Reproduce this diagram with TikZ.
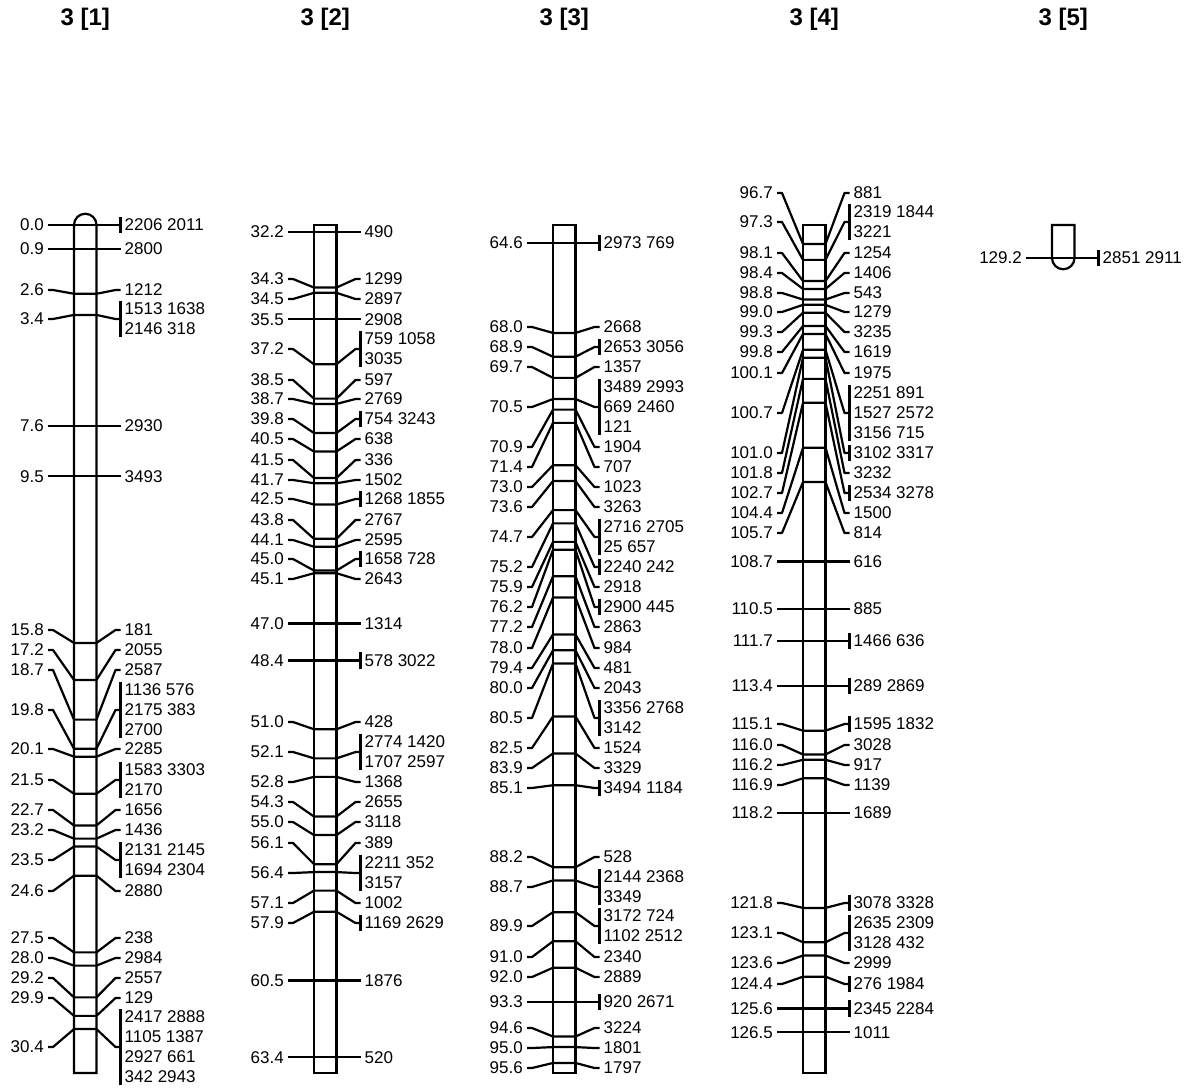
\documentclass[tikz,border=0pt]{standalone}
\usepackage{fontspec}
\setmainfont{Liberation Sans}
\newcount\mkcnt
\def\SC{26.45}
\tikzset{
  ln/.style={line width=2.2pt, line join=round},
  lft/.style={anchor=east, inner sep=0pt, font=\fontsize{17}{20}\selectfont},
  rgt/.style={anchor=west, inner sep=0pt, align=left, font=\fontsize{17}{20}\selectfont},
  ttl/.style={anchor=base, inner sep=0pt, font=\fontsize{24}{28}\selectfont\bfseries},
  chrbar/.style={line width=2.2pt, line join=miter},
}
\newcommand\mrkcore[3]{%
  \global\advance\mkcnt by 1
  \edef\nm{m\the\mkcnt}%
  \pgfmathsetmacro\my{\Yo+\SC*(#1-\Co)}%
  \pgfmathsetmacro\ly{#2}%
  \coordinate (\nm A) at (\Xb,\my);
  \coordinate (\nm B) at (\Xb+22.5,\my);
  \node[lft] (\nm L) at (\Xb-30,\ly) {#1};
  \node[rgt] (\nm R) at (\Xb+50.5,\ly) {#3};
  \draw[ln] ([xshift=4pt]\nm L.east) -- ([xshift=9pt]\nm L.east) -- (\nm A) -- (\nm B)
     -- ([xshift=-9pt]\nm R.west) -- ([xshift=-4pt]\nm R.west);
}
\newcommand\mrk[3]{\mrkcore{#1}{#2}{#3}}
\newcommand\mrkB[3]{\mrkcore{#1}{#2}{#3}%
  \draw[ln] ([xshift=-4pt,yshift=2pt]\nm R.north west) -- ([xshift=-4pt,yshift=-2pt]\nm R.south west);}
\begin{document}
\begin{tikzpicture}[x=1pt,y=-1pt]
\useasboundingbox (0,0) rectangle (1194,1089);
\fill[white] (0,0) rectangle (1194,1089);
% titles
\node[ttl] (t1) at (85.25,26) {3 [1]};
\node[ttl] (t2) at (325.25,26) {3 [2]};
\node[ttl] (t3) at (564.25,26) {3 [3]};
\node[ttl] (t4) at (814.25,26) {3 [4]};
\node[ttl] (t5) at (1063.25,26) {3 [5]};
% chromosome bars
\draw[chrbar] (74,1073) -- (74,225) arc[start angle=180, end angle=360, radius=11.25] -- (96.5,1073) -- cycle;
\draw[chrbar] (314,225) rectangle (336.5,1073);
\draw[chrbar] (553,225) rectangle (575.5,1073);
\draw[chrbar] (803,225) rectangle (825.5,1073);
\draw[chrbar] (1052,258) -- (1052,225) -- (1074.5,225) -- (1074.5,258) arc[start angle=0, end angle=180, radius=11.25];
% ---------- chromosome 1
\def\Xb{74}\def\Yo{225}\def\Co{0}
\mrkB{0.0}{\my}{2206 2011}
\mrk{0.9}{\my}{2800}
\mrk{2.6}{290}{1212}
\mrkB{3.4}{319}{1513 1638\\2146 318}
\mrk{7.6}{\my}{2930}
\mrk{9.5}{\my}{3493}
\mrk{15.8}{630}{181}
\mrk{17.2}{650}{2055}
\mrk{18.7}{670}{2587}
\mrkB{19.8}{710}{1136 576\\2175 383\\2700}
\mrk{20.1}{749}{2285}
\mrkB{21.5}{780}{1583 3303\\2170}
\mrk{22.7}{810}{1656}
\mrk{23.2}{830}{1436}
\mrkB{23.5}{860}{2131 2145\\1694 2304}
\mrk{24.6}{891}{2880}
\mrk{27.5}{938}{238}
\mrk{28.0}{958}{2984}
\mrk{29.2}{978}{2557}
\mrk{29.9}{998}{129}
\mrkB{30.4}{1047}{2417 2888\\1105 1387\\2927 661\\342 2943}
% ---------- chromosome 2
\def\Xb{314}\def\Yo{232}\def\Co{32.2}
\mrk{32.2}{\my}{490}
\mrk{34.3}{279}{1299}
\mrk{34.5}{299}{2897}
\mrk{35.5}{\my}{2908}
\mrkB{37.2}{349}{759 1058\\3035}
\mrk{38.5}{380}{597}
\mrk{38.7}{399}{2769}
\mrkB{39.8}{419}{754 3243}
\mrk{40.5}{439}{638}
\mrk{41.5}{460}{336}
\mrk{41.7}{480}{1502}
\mrkB{42.5}{499}{1268 1855}
\mrk{43.8}{520}{2767}
\mrk{44.1}{540}{2595}
\mrkB{45.0}{559}{1658 728}
\mrk{45.1}{579}{2643}
\mrk{47.0}{\my}{1314}
\mrkB{48.4}{\my}{578 3022}
\mrk{51.0}{722}{428}
\mrkB{52.1}{752}{2774 1420\\1707 2597}
\mrk{52.8}{782}{1368}
\mrk{54.3}{802}{2655}
\mrk{55.0}{822}{3118}
\mrk{56.1}{843}{389}
\mrkB{56.4}{873}{2211 352\\3157}
\mrk{57.1}{903}{1002}
\mrkB{57.9}{923}{1169 2629}
\mrk{60.5}{\my}{1876}
\mrk{63.4}{\my}{520}
% ---------- chromosome 3
\def\Xb{553}\def\Yo{243}\def\Co{64.6}
\mrkB{64.6}{\my}{2973 769}
\mrk{68.0}{327}{2668}
\mrkB{68.9}{347}{2653 3056}
\mrk{69.7}{367}{1357}
\mrkB{70.5}{407}{3489 2993\\669 2460\\121}
\mrk{70.9}{447}{1904}
\mrk{71.4}{467}{707}
\mrk{73.0}{487}{1023}
\mrk{73.6}{507}{3263}
\mrkB{74.7}{537}{2716 2705\\25 657}
\mrkB{75.2}{567}{2240 242}
\mrk{75.9}{587}{2918}
\mrkB{76.2}{607}{2900 445}
\mrk{77.2}{627}{2863}
\mrk{78.0}{648}{984}
\mrk{79.4}{668}{481}
\mrk{80.0}{688}{2043}
\mrkB{80.5}{718}{3356 2768\\3142}
\mrk{82.5}{748}{1524}
\mrk{83.9}{768}{3329}
\mrkB{85.1}{788}{3494 1184}
\mrk{88.2}{857}{528}
\mrkB{88.7}{887}{2144 2368\\3349}
\mrkB{89.9}{926}{3172 724\\1102 2512}
\mrk{91.0}{957}{2340}
\mrk{92.0}{977}{2889}
\mrkB{93.3}{\my}{920 2671}
\mrk{94.6}{1028}{3224}
\mrk{95.0}{1048}{1801}
\mrk{95.6}{1068}{1797}
% ---------- chromosome 4
\def\Xb{803}\def\Yo{244}\def\Co{96.7}
\mrk{96.7}{193}{881}
\mrkB{97.3}{222}{2319 1844\\3221}
\mrk{98.1}{253}{1254}
\mrk{98.4}{273}{1406}
\mrk{98.8}{293}{543}
\mrk{99.0}{312}{1279}
\mrk{99.3}{332}{3235}
\mrk{99.8}{352}{1619}
\mrk{100.1}{373}{1975}
\mrkB{100.7}{413}{2251 891\\1527 2572\\3156 715}
\mrkB{101.0}{453}{3102 3317}
\mrk{101.8}{473}{3232}
\mrkB{102.7}{493}{2534 3278}
\mrk{104.4}{513}{1500}
\mrk{105.7}{533}{814}
\mrk{108.7}{\my}{616}
\mrk{110.5}{\my}{885}
\mrkB{111.7}{\my}{1466 636}
\mrkB{113.4}{\my}{289 2869}
\mrkB{115.1}{724}{1595 1832}
\mrk{116.0}{745}{3028}
\mrk{116.2}{765}{917}
\mrk{116.9}{785}{1139}
\mrk{118.2}{\my}{1689}
\mrkB{121.8}{903}{3078 3328}
\mrkB{123.1}{933}{2635 2309\\3128 432}
\mrk{123.6}{963}{2999}
\mrkB{124.4}{984}{276 1984}
\mrkB{125.6}{\my}{2345 2284}
\mrk{126.5}{\my}{1011}
% ---------- chromosome 5
\def\Xb{1052}\def\Yo{258}\def\Co{129.2}
\mrkB{129.2}{\my}{2851 2911}
\end{tikzpicture}
\end{document}
